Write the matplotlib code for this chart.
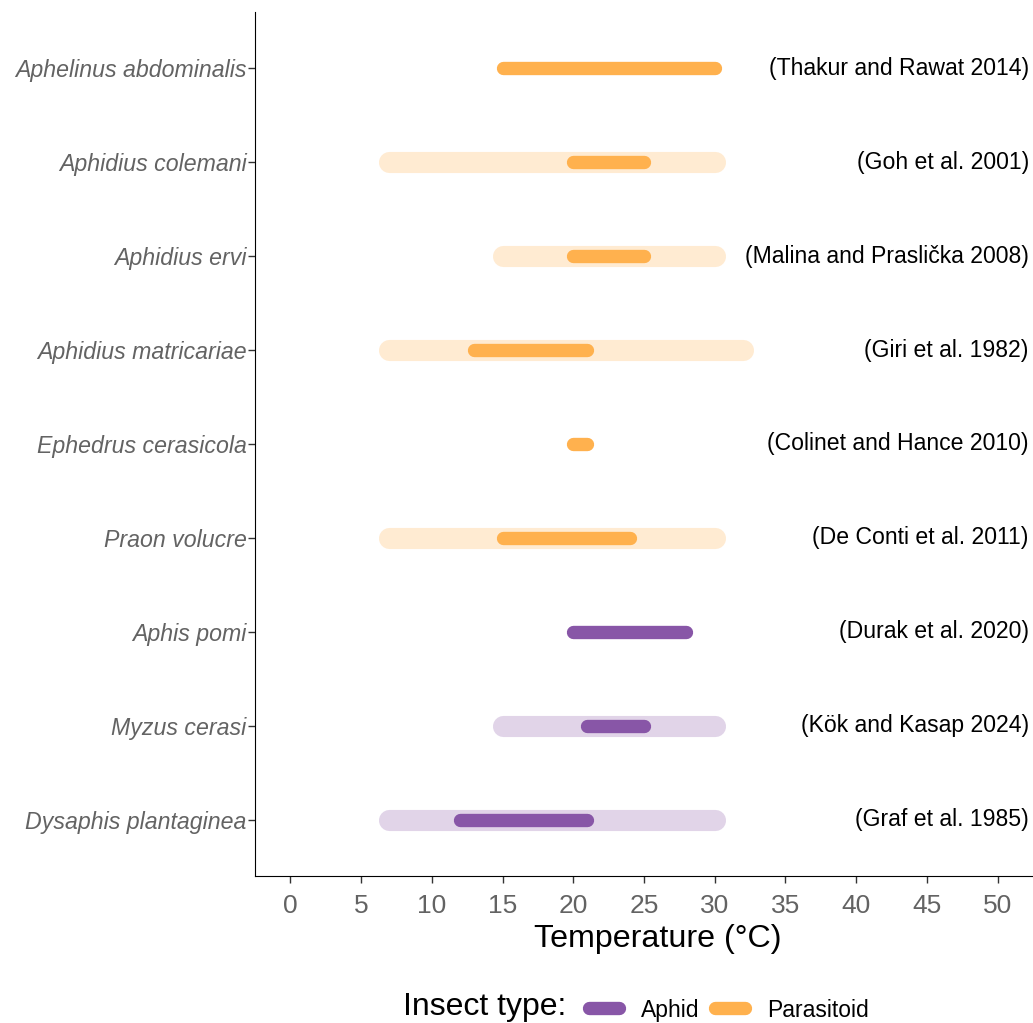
import matplotlib
matplotlib.use("Agg")
import matplotlib.pyplot as plt
from matplotlib.lines import Line2D

plt.rcParams['font.family'] = ['Liberation Sans', 'DejaVu Sans']

species = ["Aphelinus abdominalis", "Aphidius colemani", "Aphidius ervi",
           "Aphidius matricariae", "Ephedrus cerasicola", "Praon volucre",
           "Aphis pomi", "Myzus cerasi", "Dysaphis plantaginea"]
insect_type = ["Parasitoid"] * 6 + ["Aphid"] * 3
range_min = [None, 7, 15, 7, None, 7, None, 15, 7]
range_max = [None, 30, 30, 32, None, 30, None, 30, 30]
opt_min = [15, 20, 20, 13, 20, 15, 20, 21, 12]
opt_max = [30, 25, 25, 21, 21, 24, 28, 25, 21]
refs = ["(Thakur and Rawat 2014)", "(Goh et al. 2001)", "(Malina and Praslička 2008)",
        "(Giri et al. 1982)", "(Colinet and Hance 2010)", "(De Conti et al. 2011)",
        "(Durak et al. 2020)", "(Kök and Kasap 2024)", "(Graf et al. 1985)"]
xticks = [0, 5, 10, 15, 20, 25, 30, 35, 40, 45, 50]

colors = {"Aphid": "#8856A7", "Parasitoid": "#FFB14E"}
gray = '#636363'

fig = plt.figure(figsize=(10.33, 10.23), dpi=100)
ax = fig.add_axes([0.2469, 0.1437, 0.7531, 0.8446])

n = len(species)
ys = [n - 1 - i for i in range(n)]
for i, sp in enumerate(species):
    y = ys[i]
    c = colors[insect_type[i]]
    if range_min[i] is not None:
        ax.plot([range_min[i], range_max[i]], [y, y], color=c, alpha=0.25,
                lw=15.2, solid_capstyle='round', zorder=2)
    ax.plot([opt_min[i], opt_max[i]], [y, y], color=c, lw=9.6,
            solid_capstyle='round', zorder=3)
    ax.text(52.2, y, refs[i], ha='right', va='center', fontsize=16.6, color='black')

ax.set_xlim(-2.5, 52.5)
ax.set_ylim(-0.6, n - 1 + 0.6)
ax.set_yticks(ys)
ax.set_yticklabels(species, fontsize=16.7, style='italic', color=gray)
ax.set_xticks(xticks)
ax.set_xticklabels([str(t) for t in xticks], fontsize=19, color=gray)
ax.set_xlabel("Temperature (°C)", fontsize=23.2, color='black', labelpad=0)
ax.xaxis.set_label_coords(0.518, -0.056)
ax.spines['top'].set_visible(False)
ax.spines['right'].set_visible(False)
ax.tick_params(axis='both', length=5, width=1, color='#333333')
ax.tick_params(axis='y', pad=1)
ax.tick_params(axis='x', pad=8)

fig.text(0.39, 0.016, "Insect type:", fontsize=23, va='center', ha='left')
handles = [Line2D([0], [0], color=colors["Aphid"], lw=9.6, solid_capstyle='round'),
           Line2D([0], [0], color=colors["Parasitoid"], lw=9.6, solid_capstyle='round')]
fig.legend(handles, ["Aphid", "Parasitoid"], ncol=2, frameon=False,
           loc='center left', bbox_to_anchor=(0.5705, 0.0127), fontsize=16.5,
           handlelength=1.3, handletextpad=0.96, columnspacing=0.68,
           borderaxespad=0, borderpad=0)

fig.savefig("out.png", dpi=100)
